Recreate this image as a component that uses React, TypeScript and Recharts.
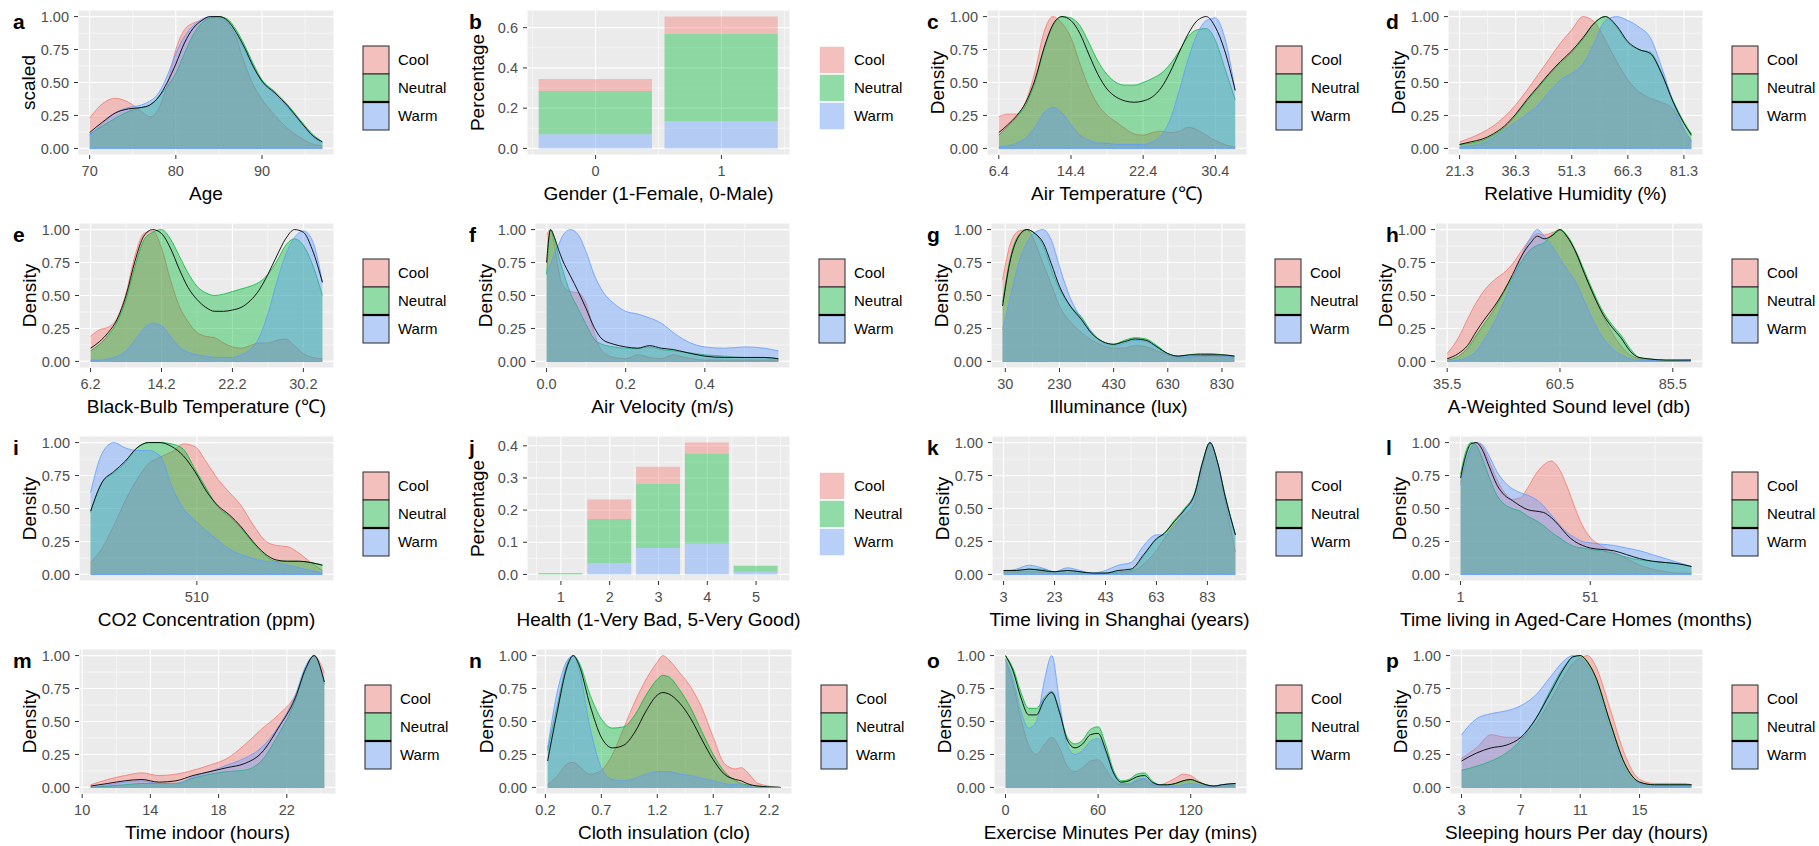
import React from "react";
import { ComposedChart, Area, Line, Bar, XAxis, YAxis, CartesianGrid } from "recharts";

const FONT = '"Liberation Sans", Arial, Helvetica, sans-serif';
const COOL = "#F8766D";
const NEUTRAL = "#00BA38";
const WARM = "#619CFF";
const CELL_W = 455;
const CELL_H = 212;
const PLOT_TOP = 10;
const PLOT_H = 145;

// ---- a: Age
const ageX = [70, 71.5, 73, 74.5, 76, 77, 78, 79, 80, 81, 82, 83, 84, 85, 86, 87, 88, 89, 90, 91.5, 93, 94.5, 96, 97];
const ageCool = [0.23, 0.34, 0.38, 0.35, 0.28, 0.24, 0.3, 0.48, 0.75, 0.9, 0.95, 0.97, 0.99, 1.0, 0.96, 0.84, 0.64, 0.48, 0.37, 0.25, 0.15, 0.08, 0.03, 0.02];
const ageNeutral = [0.11, 0.17, 0.23, 0.28, 0.31, 0.33, 0.39, 0.47, 0.57, 0.72, 0.86, 0.95, 0.99, 1.0, 0.98, 0.9, 0.78, 0.64, 0.52, 0.43, 0.33, 0.21, 0.1, 0.05];
const ageWarm = [0.1, 0.19, 0.27, 0.31, 0.33, 0.36, 0.42, 0.55, 0.72, 0.85, 0.93, 0.98, 1.0, 0.99, 0.95, 0.86, 0.74, 0.61, 0.51, 0.41, 0.31, 0.19, 0.08, 0.04];
const ageAll = [0.12, 0.2, 0.27, 0.3, 0.31, 0.33, 0.39, 0.5, 0.64, 0.8, 0.91, 0.97, 1.0, 1.0, 0.97, 0.88, 0.76, 0.62, 0.51, 0.42, 0.32, 0.2, 0.09, 0.05];

// ---- b: Gender
const genderCats = [0, 1];
const genderWarm = [0.07, 0.135];
const genderNeutral = [0.215, 0.435];
const genderCool = [0.06, 0.085];

// ---- c: Air temperature
const airX = [6.4, 7.4, 8.4, 9.4, 10.4, 11.4, 12.4, 13.4, 14.4, 15.4, 16.4, 17.4, 18.4, 19.4, 20.4, 21.4, 22.4, 23.4, 24.4, 25.4, 26.4, 27.4, 28.4, 29.4, 30.4, 31.4, 32.6];
const airCool = [0.24, 0.26, 0.26, 0.36, 0.58, 0.88, 1.0, 0.95, 0.84, 0.64, 0.46, 0.33, 0.25, 0.2, 0.15, 0.11, 0.1, 0.12, 0.13, 0.12, 0.13, 0.16, 0.14, 0.1, 0.06, 0.03, 0.01];
const airNeutral = [0.1, 0.17, 0.24, 0.33, 0.5, 0.75, 0.93, 1.0, 0.99, 0.93, 0.8, 0.66, 0.56, 0.5, 0.48, 0.48, 0.5, 0.53, 0.57, 0.64, 0.74, 0.85, 0.9, 0.91, 0.82, 0.62, 0.37];
const airWarm = [0.01, 0.02, 0.04, 0.08, 0.16, 0.27, 0.31, 0.27, 0.18, 0.1, 0.06, 0.04, 0.04, 0.03, 0.03, 0.03, 0.03, 0.05, 0.1, 0.22, 0.44, 0.68, 0.87, 0.97, 0.99, 0.85, 0.44];
const airAll = [0.12, 0.18, 0.25, 0.35, 0.52, 0.76, 0.94, 1.0, 0.97, 0.87, 0.71, 0.56, 0.45, 0.39, 0.36, 0.35, 0.36, 0.39, 0.46, 0.58, 0.73, 0.87, 0.97, 1.0, 0.92, 0.75, 0.44];

// ---- d: Relative humidity
const rhX = [21.3, 24.3, 27.3, 30.3, 33.3, 36.3, 39.3, 42.3, 45.3, 48.3, 51.3, 54.3, 57.3, 60.3, 63.3, 66.3, 69.3, 72.3, 75.3, 78.3, 81.3, 83.3];
const rhCool = [0.05, 0.08, 0.12, 0.17, 0.24, 0.33, 0.44, 0.56, 0.68, 0.8, 0.9, 1.0, 0.96, 0.82, 0.66, 0.52, 0.43, 0.38, 0.35, 0.3, 0.14, 0.06];
const rhNeutral = [0.03, 0.04, 0.06, 0.1, 0.16, 0.25, 0.36, 0.46, 0.56, 0.65, 0.73, 0.83, 0.95, 1.0, 0.92, 0.8, 0.75, 0.73, 0.58, 0.37, 0.2, 0.11];
const rhWarm = [0.01, 0.02, 0.04, 0.08, 0.14, 0.2, 0.26, 0.33, 0.43, 0.52, 0.57, 0.64, 0.8, 0.97, 1.0, 0.97, 0.92, 0.84, 0.62, 0.36, 0.15, 0.05];
const rhAll = [0.03, 0.05, 0.07, 0.11, 0.17, 0.26, 0.37, 0.47, 0.57, 0.66, 0.74, 0.84, 0.95, 1.0, 0.93, 0.81, 0.75, 0.72, 0.57, 0.36, 0.19, 0.1];

// ---- e: Black-bulb temperature
const bbX = [6.2, 7.2, 8.2, 9.2, 10.2, 11.2, 12.2, 13.2, 14.2, 15.2, 16.2, 17.2, 18.2, 19.2, 20.2, 21.2, 22.2, 23.2, 24.2, 25.2, 26.2, 27.2, 28.2, 29.2, 30.2, 31.2, 32.35];
const bbCool = [0.19, 0.24, 0.26, 0.33, 0.52, 0.8, 0.97, 0.99, 0.86, 0.62, 0.42, 0.3, 0.22, 0.19, 0.18, 0.14, 0.11, 0.1, 0.12, 0.14, 0.14, 0.16, 0.17, 0.12, 0.06, 0.03, 0.02];
const bbNeutral = [0.08, 0.13, 0.2, 0.3, 0.47, 0.72, 0.92, 0.98, 1.0, 0.93, 0.8, 0.67, 0.57, 0.52, 0.5, 0.51, 0.53, 0.55, 0.57, 0.6, 0.66, 0.76, 0.88, 0.93, 0.88, 0.74, 0.5];
const bbWarm = [0.01, 0.01, 0.02, 0.04, 0.08, 0.16, 0.25, 0.29, 0.27, 0.19, 0.11, 0.07, 0.05, 0.04, 0.03, 0.03, 0.03, 0.05, 0.09, 0.18, 0.36, 0.6, 0.81, 0.94, 0.99, 0.92, 0.6];
const bbAll = [0.1, 0.15, 0.22, 0.32, 0.5, 0.76, 0.95, 1.0, 0.97, 0.86, 0.7, 0.56, 0.47, 0.41, 0.38, 0.38, 0.39, 0.41, 0.46, 0.54, 0.66, 0.8, 0.93, 1.0, 0.98, 0.85, 0.6];

// ---- f: Air velocity
const velX = [0, 0.01, 0.02, 0.03, 0.04, 0.06, 0.08, 0.1, 0.12, 0.14, 0.17, 0.2, 0.23, 0.26, 0.29, 0.32, 0.35, 0.4, 0.45, 0.5, 0.55, 0.586];
const velCool = [0.96, 1.0, 0.88, 0.7, 0.58, 0.53, 0.52, 0.44, 0.22, 0.08, 0.03, 0.02, 0.05, 0.03, 0.02, 0.05, 0.03, 0.01, 0.01, 0.01, 0.01, 0.01];
const velNeutral = [0.66, 1.0, 0.93, 0.8, 0.7, 0.52, 0.4, 0.28, 0.17, 0.13, 0.11, 0.1, 0.1, 0.11, 0.09, 0.08, 0.07, 0.05, 0.04, 0.03, 0.03, 0.02];
const velWarm = [0.66, 0.74, 0.82, 0.88, 0.95, 1.0, 0.96, 0.83, 0.66, 0.54, 0.44, 0.38, 0.36, 0.33, 0.29, 0.22, 0.16, 0.11, 0.1, 0.11, 0.1, 0.08];
const velAll = [0.75, 1.0, 0.94, 0.85, 0.77, 0.65, 0.53, 0.4, 0.26, 0.17, 0.13, 0.11, 0.1, 0.12, 0.1, 0.09, 0.07, 0.04, 0.03, 0.03, 0.03, 0.02];

// ---- g: Illuminance
const luxX = [20, 50, 80, 110, 140, 170, 200, 230, 270, 310, 350, 390, 430, 470, 510, 550, 590, 630, 670, 710, 750, 790, 830, 876];
const luxCool = [0.62, 0.9, 0.99, 1.0, 0.9, 0.74, 0.58, 0.42, 0.3, 0.22, 0.16, 0.12, 0.1, 0.1, 0.12, 0.11, 0.08, 0.05, 0.03, 0.03, 0.04, 0.04, 0.04, 0.03];
const luxNeutral = [0.45, 0.8, 0.96, 1.0, 0.97, 0.88, 0.7, 0.55, 0.42, 0.34, 0.22, 0.15, 0.13, 0.16, 0.18, 0.17, 0.12, 0.06, 0.04, 0.05, 0.06, 0.06, 0.05, 0.04];
const luxWarm = [0.24, 0.5, 0.75, 0.9, 0.98, 1.0, 0.92, 0.72, 0.48, 0.33, 0.22, 0.14, 0.12, 0.14, 0.16, 0.15, 0.11, 0.05, 0.04, 0.04, 0.04, 0.05, 0.04, 0.04];
const luxAll = [0.42, 0.78, 0.95, 1.0, 0.97, 0.9, 0.74, 0.57, 0.42, 0.32, 0.21, 0.15, 0.13, 0.15, 0.17, 0.16, 0.11, 0.06, 0.04, 0.05, 0.05, 0.05, 0.05, 0.04];

// ---- h: Sound level
const soundX = [35.5, 38, 40, 42, 44, 46, 48, 50, 52, 54, 55.5, 57, 59, 60.5, 62, 64, 66, 68, 70, 72, 74, 76, 78, 80, 84, 89.5];
const soundCool = [0.06, 0.18, 0.32, 0.45, 0.55, 0.62, 0.67, 0.74, 0.84, 0.93, 0.97, 0.96, 0.98, 1.0, 0.95, 0.82, 0.66, 0.5, 0.35, 0.22, 0.12, 0.05, 0.02, 0.01, 0.0, 0.0];
const soundNeutral = [0.01, 0.04, 0.1, 0.2, 0.3, 0.4, 0.52, 0.64, 0.76, 0.85, 0.88, 0.9, 0.97, 1.0, 0.96, 0.84, 0.68, 0.52, 0.38, 0.28, 0.2, 0.1, 0.03, 0.02, 0.01, 0.01];
const soundWarm = [0.0, 0.01, 0.03, 0.08, 0.18, 0.3, 0.45, 0.62, 0.8, 0.94, 1.0, 0.95, 0.86, 0.78, 0.7, 0.6, 0.45, 0.3, 0.18, 0.1, 0.05, 0.02, 0.01, 0.01, 0.0, 0.01];
const soundAll = [0.02, 0.06, 0.12, 0.23, 0.33, 0.42, 0.53, 0.66, 0.8, 0.9, 0.95, 0.93, 0.96, 1.0, 0.95, 0.83, 0.66, 0.5, 0.36, 0.26, 0.18, 0.08, 0.03, 0.02, 0.01, 0.01];

// ---- i: CO2
const co2X = [400, 412, 424, 436, 448, 460, 472, 484, 496, 508, 520, 532, 544, 556, 568, 580, 592, 604, 616, 628, 640];
const co2Cool = [0.09, 0.2, 0.37, 0.56, 0.72, 0.84, 0.89, 0.93, 0.99, 0.97, 0.85, 0.72, 0.62, 0.52, 0.38, 0.26, 0.22, 0.21, 0.16, 0.09, 0.03];
const co2Neutral = [0.47, 0.7, 0.77, 0.85, 0.96, 1.0, 1.0, 0.99, 0.95, 0.8, 0.65, 0.51, 0.44, 0.35, 0.24, 0.15, 0.1, 0.1, 0.1, 0.09, 0.07];
const co2Warm = [0.62, 0.92, 1.0, 0.96, 0.94, 0.94, 0.9, 0.67, 0.5, 0.41, 0.33, 0.26, 0.19, 0.15, 0.12, 0.1, 0.09, 0.07, 0.05, 0.03, 0.01];
const co2All = [0.48, 0.7, 0.78, 0.86, 0.96, 1.0, 1.0, 0.97, 0.9, 0.78, 0.63, 0.52, 0.45, 0.36, 0.25, 0.16, 0.11, 0.1, 0.1, 0.09, 0.07];

// ---- j: Health
const healthCats = [1, 2, 3, 4, 5];
const healthWarm = [0, 0.035, 0.082, 0.095, 0.008];
const healthNeutral = [0.004, 0.137, 0.2, 0.281, 0.019];
const healthCool = [0, 0.061, 0.053, 0.034, 0];

// ---- k: Time living in Shanghai
const shX = [3, 8, 13, 18, 23, 28, 33, 38, 43, 48, 53, 58, 63, 66, 70, 74, 78, 81, 84, 87, 90, 94];
const shCool = [0.02, 0.02, 0.02, 0.02, 0.01, 0.01, 0.01, 0.0, 0.01, 0.01, 0.02, 0.08, 0.18, 0.27, 0.38, 0.45, 0.55, 0.8, 1.0, 0.85, 0.55, 0.17];
const shNeutral = [0.03, 0.03, 0.04, 0.04, 0.02, 0.03, 0.02, 0.01, 0.01, 0.02, 0.03, 0.14, 0.27, 0.31, 0.41, 0.5, 0.62, 0.85, 1.0, 0.85, 0.6, 0.3];
const shWarm = [0.02, 0.04, 0.07, 0.05, 0.02, 0.05, 0.03, 0.01, 0.03, 0.07, 0.09, 0.22, 0.3, 0.3, 0.36, 0.48, 0.6, 0.84, 1.0, 0.84, 0.58, 0.3];
const shAll = [0.03, 0.03, 0.04, 0.03, 0.02, 0.03, 0.02, 0.01, 0.01, 0.03, 0.04, 0.15, 0.27, 0.31, 0.4, 0.49, 0.61, 0.84, 1.0, 0.85, 0.59, 0.3];

// ---- l: Time living in aged-care homes
const achX = [1, 3, 5, 7, 9, 12, 15, 18, 21, 24, 27, 30, 33, 36, 39, 42, 45, 48, 51, 55, 60, 65, 70, 75, 80, 85, 90];
const achCool = [0.7, 0.85, 0.96, 1.0, 0.98, 0.86, 0.72, 0.62, 0.57, 0.58, 0.66, 0.76, 0.83, 0.86, 0.8, 0.67, 0.51, 0.37, 0.28, 0.22, 0.17, 0.12, 0.07, 0.04, 0.02, 0.01, 0.01];
const achNeutral = [0.76, 0.93, 1.0, 0.98, 0.9, 0.74, 0.6, 0.53, 0.5, 0.48, 0.44, 0.41, 0.37, 0.32, 0.28, 0.24, 0.21, 0.2, 0.19, 0.18, 0.16, 0.13, 0.11, 0.1, 0.09, 0.08, 0.06];
const achWarm = [0.68, 0.85, 0.96, 1.0, 0.99, 0.9, 0.78, 0.7, 0.65, 0.62, 0.6, 0.57, 0.52, 0.45, 0.38, 0.32, 0.28, 0.25, 0.24, 0.23, 0.22, 0.2, 0.18, 0.15, 0.12, 0.09, 0.06];
const achAll = [0.73, 0.9, 0.99, 1.0, 0.96, 0.82, 0.68, 0.6, 0.56, 0.52, 0.49, 0.48, 0.47, 0.43, 0.37, 0.3, 0.25, 0.22, 0.2, 0.19, 0.18, 0.15, 0.12, 0.1, 0.09, 0.08, 0.06];

// ---- m: Time indoor
const indoorX = [10.5, 11.5, 12.5, 13.5, 14.5, 15.5, 16.5, 17.5, 18.5, 19.5, 20.5, 21.5, 22.5, 23.1, 23.6, 24.2];
const indoorCool = [0.02, 0.06, 0.09, 0.11, 0.09, 0.1, 0.13, 0.17, 0.22, 0.32, 0.44, 0.55, 0.7, 0.88, 1.0, 0.87];
const indoorNeutral = [0.0, 0.01, 0.02, 0.03, 0.03, 0.03, 0.07, 0.1, 0.12, 0.13, 0.2, 0.4, 0.66, 0.9, 1.0, 0.78];
const indoorWarm = [0.0, 0.02, 0.04, 0.05, 0.03, 0.03, 0.08, 0.12, 0.17, 0.22, 0.3, 0.46, 0.7, 0.92, 1.0, 0.8];
const indoorAll = [0.01, 0.03, 0.05, 0.06, 0.04, 0.05, 0.09, 0.12, 0.15, 0.18, 0.26, 0.45, 0.68, 0.9, 1.0, 0.8];

// ---- n: Cloth insulation
const cloX = [0.22, 0.3, 0.4, 0.45, 0.5, 0.6, 0.7, 0.8, 0.9, 1.0, 1.1, 1.2, 1.25, 1.3, 1.4, 1.5, 1.6, 1.7, 1.8, 1.9, 1.95, 2.0, 2.1, 2.3];
const cloCool = [0.02, 0.08, 0.18, 0.19, 0.16, 0.1, 0.13, 0.25, 0.45, 0.65, 0.82, 0.95, 1.0, 0.97, 0.87, 0.76, 0.6, 0.38, 0.18, 0.14, 0.15, 0.12, 0.03, 0.0];
const cloNeutral = [0.28, 0.6, 0.95, 1.0, 0.95, 0.7, 0.52, 0.45, 0.46, 0.55, 0.7, 0.82, 0.85, 0.84, 0.74, 0.6, 0.42, 0.25, 0.12, 0.05, 0.03, 0.02, 0.01, 0.0];
const cloWarm = [0.3, 0.7, 0.97, 1.0, 0.9, 0.45, 0.15, 0.06, 0.05, 0.07, 0.1, 0.12, 0.12, 0.12, 0.1, 0.09, 0.07, 0.05, 0.03, 0.02, 0.02, 0.01, 0.0, 0.0];
const cloAll = [0.2, 0.55, 0.93, 1.0, 0.93, 0.62, 0.38, 0.3, 0.32, 0.42, 0.58, 0.7, 0.72, 0.71, 0.64, 0.52, 0.36, 0.21, 0.1, 0.06, 0.05, 0.03, 0.01, 0.0];

// ---- o: Exercise minutes
const exX = [0, 5, 10, 15, 20, 25, 30, 35, 40, 45, 50, 55, 60, 65, 70, 75, 80, 85, 90, 95, 100, 105, 110, 115, 120, 125, 130, 135, 140, 149];
const exCool = [0.97, 0.78, 0.52, 0.32, 0.25, 0.32, 0.38, 0.3, 0.16, 0.12, 0.15, 0.2, 0.21, 0.14, 0.05, 0.02, 0.02, 0.05, 0.06, 0.02, 0.02, 0.04, 0.07, 0.1, 0.09, 0.05, 0.02, 0.01, 0.01, 0.02];
const exNeutral = [1.0, 0.9, 0.72, 0.6, 0.6, 0.68, 0.73, 0.58, 0.38, 0.33, 0.36, 0.44, 0.46, 0.32, 0.13, 0.05, 0.06, 0.1, 0.11, 0.05, 0.02, 0.02, 0.03, 0.05, 0.06, 0.04, 0.02, 0.01, 0.02, 0.03];
const exWarm = [0.97, 0.82, 0.58, 0.45, 0.5, 0.8, 1.0, 0.65, 0.32, 0.25, 0.28, 0.35, 0.37, 0.26, 0.1, 0.03, 0.03, 0.06, 0.07, 0.03, 0.02, 0.01, 0.01, 0.02, 0.03, 0.02, 0.01, 0.01, 0.02, 0.03];
const exAll = [1.0, 0.88, 0.68, 0.55, 0.55, 0.66, 0.72, 0.57, 0.36, 0.3, 0.33, 0.4, 0.41, 0.28, 0.11, 0.04, 0.05, 0.08, 0.09, 0.04, 0.02, 0.02, 0.03, 0.05, 0.06, 0.04, 0.02, 0.01, 0.02, 0.03];

// ---- p: Sleeping hours
const sleepX = [3, 4, 5, 6, 7, 8, 9, 10, 10.5, 11, 11.5, 12, 13, 14, 15, 16, 17, 18, 18.5];
const sleepCool = [0.22, 0.3, 0.4, 0.38, 0.38, 0.48, 0.66, 0.86, 0.94, 0.98, 1.0, 0.93, 0.6, 0.25, 0.06, 0.03, 0.03, 0.03, 0.02];
const sleepNeutral = [0.13, 0.16, 0.2, 0.26, 0.36, 0.52, 0.74, 0.93, 0.99, 1.0, 0.95, 0.84, 0.5, 0.18, 0.04, 0.02, 0.02, 0.02, 0.02];
const sleepWarm = [0.4, 0.52, 0.56, 0.58, 0.62, 0.7, 0.84, 0.97, 1.0, 0.98, 0.92, 0.8, 0.45, 0.14, 0.03, 0.01, 0.01, 0.01, 0.01];
const sleepAll = [0.2, 0.26, 0.3, 0.32, 0.38, 0.52, 0.72, 0.92, 0.99, 1.0, 0.95, 0.85, 0.5, 0.18, 0.04, 0.02, 0.02, 0.02, 0.02];

const densityTicks = [0, 0.25, 0.5, 0.75, 1];
const densityLabels = ["0.00", "0.25", "0.50", "0.75", "1.00"];

type Panel = {
  kind: "density" | "bar";
  letter: string;
  xTitle: string;
  yTitle: string;
  x: number[];
  cool: number[];
  neutral: number[];
  warm: number[];
  all?: number[];
  xTicks: number[];
  xLabels: string[];
  yTicks: number[];
  yLabels: string[];
};

const dens = (letter: string, xTitle: string, x: number[], cool: number[], neutral: number[], warm: number[], all: number[], xTicks: number[], xLabels: string[], yTitle = "Density"): Panel => ({
  kind: "density", letter, xTitle, yTitle, x, cool, neutral, warm, all, xTicks, xLabels, yTicks: densityTicks, yLabels: densityLabels,
});

const panels: Panel[] = [
  dens("a", "Age", ageX, ageCool, ageNeutral, ageWarm, ageAll, [70, 80, 90], ["70", "80", "90"], "scaled"),
  { kind: "bar", letter: "b", xTitle: "Gender (1-Female, 0-Male)", yTitle: "Percentage", x: genderCats, cool: genderCool, neutral: genderNeutral, warm: genderWarm, xTicks: [0, 1], xLabels: ["0", "1"], yTicks: [0, 0.2, 0.4, 0.6], yLabels: ["0.0", "0.2", "0.4", "0.6"] },
  dens("c", "Air Temperature (\u2103)", airX, airCool, airNeutral, airWarm, airAll, [6.4, 14.4, 22.4, 30.4], ["6.4", "14.4", "22.4", "30.4"]),
  dens("d", "Relative Humidity (%)", rhX, rhCool, rhNeutral, rhWarm, rhAll, [21.3, 36.3, 51.3, 66.3, 81.3], ["21.3", "36.3", "51.3", "66.3", "81.3"]),
  dens("e", "Black-Bulb Temperature (\u2103)", bbX, bbCool, bbNeutral, bbWarm, bbAll, [6.2, 14.2, 22.2, 30.2], ["6.2", "14.2", "22.2", "30.2"]),
  dens("f", "Air Velocity (m/s)", velX, velCool, velNeutral, velWarm, velAll, [0, 0.2, 0.4], ["0.0", "0.2", "0.4"]),
  dens("g", "Illuminance (lux)", luxX, luxCool, luxNeutral, luxWarm, luxAll, [30, 230, 430, 630, 830], ["30", "230", "430", "630", "830"]),
  dens("h", "A-Weighted Sound level (db)", soundX, soundCool, soundNeutral, soundWarm, soundAll, [35.5, 60.5, 85.5], ["35.5", "60.5", "85.5"]),
  dens("i", "CO2 Concentration (ppm)", co2X, co2Cool, co2Neutral, co2Warm, co2All, [510], ["510"]),
  { kind: "bar", letter: "j", xTitle: "Health (1-Very Bad, 5-Very Good)", yTitle: "Percentage", x: healthCats, cool: healthCool, neutral: healthNeutral, warm: healthWarm, xTicks: [1, 2, 3, 4, 5], xLabels: ["1", "2", "3", "4", "5"], yTicks: [0, 0.1, 0.2, 0.3, 0.4], yLabels: ["0.0", "0.1", "0.2", "0.3", "0.4"] },
  dens("k", "Time living in Shanghai (years)", shX, shCool, shNeutral, shWarm, shAll, [3, 23, 43, 63, 83], ["3", "23", "43", "63", "83"]),
  dens("l", "Time living in Aged-Care Homes (months)", achX, achCool, achNeutral, achWarm, achAll, [1, 51], ["1", "51"]),
  dens("m", "Time indoor (hours)", indoorX, indoorCool, indoorNeutral, indoorWarm, indoorAll, [10, 14, 18, 22], ["10", "14", "18", "22"]),
  dens("n", "Cloth insulation (clo)", cloX, cloCool, cloNeutral, cloWarm, cloAll, [0.2, 0.7, 1.2, 1.7, 2.2], ["0.2", "0.7", "1.2", "1.7", "2.2"]),
  dens("o", "Exercise Minutes Per day (mins)", exX, exCool, exNeutral, exWarm, exAll, [0, 60, 120], ["0", "60", "120"]),
  dens("p", "Sleeping hours Per day (hours)", sleepX, sleepCool, sleepNeutral, sleepWarm, sleepAll, [3, 7, 11, 15], ["3", "7", "11", "15"]),
];

// plot left / right edges inside each 455px cell
const plotLeft = [78, 72, 77, 84, 79, 80, 81, 71, 79, 72, 82, 85, 79, 81, 84, 86];
const plotRight = [334, 335, 337, 339, 334, 335, 336, 339, 334, 335, 337, 339, 336, 337, 337, 339];
const letterX = [13, 14, 17, 22];

function minorBreaks(ticks: number[], lo: number, hi: number) {
  if (ticks.length < 2) return [];
  const step = ticks[1] - ticks[0];
  const out: number[] = [];
  for (let v = ticks[0] - step / 2; v <= hi + 1e-9; v += step) {
    if (v >= lo - 1e-9) out.push(+v.toFixed(6));
  }
  return out;
}

function fmt(ticks: number[], labels: string[]) {
  return (v: number) => {
    const i = ticks.findIndex((t) => Math.abs(t - v) < 1e-9);
    return i >= 0 ? labels[i] : "";
  };
}

const zero = () => 0;

function Cell({ p, idx }: { p: Panel; idx: number }) {
  const col = idx % 4;
  const row = Math.floor(idx / 4);
  const pl = plotLeft[idx];
  const pr = plotRight[idx];
  const density = p.kind === "density";

  const rows = p.x.map((x, i) => ({
    x,
    cool: p.cool[i],
    neutral: p.neutral[i],
    warm: p.warm[i],
    all: p.all ? p.all[i] : undefined,
  }));

  let xDomain: [number, number];
  let yDomain: [number, number];
  if (density) {
    const lo = Math.min(...p.x);
    const hi = Math.max(...p.x);
    const pad = (hi - lo) * 0.05;
    xDomain = [lo - pad, hi + pad];
    yDomain = [-0.05, 1.05];
  } else {
    const lo = Math.min(...p.x) - 0.45;
    const hi = Math.max(...p.x) + 0.45;
    const pad = (hi - lo) * 0.05;
    xDomain = [lo - pad, hi + pad];
    const top = Math.max(...p.x.map((_, i) => p.cool[i] + p.neutral[i] + p.warm[i]));
    yDomain = [-0.05 * top, top * 1.05];
  }
  const minorX = minorBreaks(p.xTicks, xDomain[0], xDomain[1]);
  const minorY = minorBreaks(p.yTicks, yDomain[0], yDomain[1]);
  const barSize = density ? 0 : (0.9 * (pr - pl)) / (xDomain[1] - xDomain[0]);

  const keyX = pr + 29;
  const keyY = PLOT_TOP + 36;
  const keys: [string, string][] = [["Cool", COOL], ["Neutral", NEUTRAL], ["Warm", WARM]];

  return (
    <div style={{ position: "absolute", left: Math.round(col * 454.75), top: row * 213, width: CELL_W, height: CELL_H }}>
      <ComposedChart
        width={CELL_W}
        height={CELL_H}
        data={rows}
        margin={{ top: PLOT_TOP, right: CELL_W - pr, left: 0, bottom: 0 }}
        style={{ fontFamily: FONT }}
      >
        <CartesianGrid fill="#EBEBEB" stroke="#FFFFFF" strokeWidth={1.1} />
        <CartesianGrid fill="none" stroke="#FFFFFF" strokeWidth={0.55} verticalValues={minorX} horizontalValues={minorY} />
        <XAxis
          type="number"
          dataKey="x"
          domain={xDomain}
          ticks={p.xTicks}
          interval={0}
          allowDataOverflow
          tickFormatter={fmt(p.xTicks, p.xLabels)}
          axisLine={false}
          stroke="#333333"
          tickSize={4}
          tickMargin={7}
          tick={{ fill: "#4D4D4D", fontSize: 14.5, fontFamily: FONT }}
          height={CELL_H - PLOT_TOP - PLOT_H}
        />
        <YAxis
          type="number"
          domain={yDomain}
          ticks={p.yTicks}
          interval={0}
          allowDataOverflow
          tickFormatter={fmt(p.yTicks, p.yLabels)}
          axisLine={false}
          stroke="#333333"
          tickSize={4}
          tickMargin={5}
          tick={{ fill: "#4D4D4D", fontSize: 14.5, fontFamily: FONT }}
          width={pl}
        />
        {density && (
          <Area type="monotone" dataKey="cool" stroke={COOL} strokeWidth={0.8} fill={COOL} fillOpacity={0.4} baseValue={0} dot={false} activeDot={false} isAnimationActive={false} />
        )}
        {density && (
          <Area type="monotone" dataKey="neutral" stroke={NEUTRAL} strokeWidth={0.8} fill={NEUTRAL} fillOpacity={0.4} baseValue={0} dot={false} activeDot={false} isAnimationActive={false} />
        )}
        {density && (
          <Line type="monotone" dataKey="all" stroke="#000000" strokeWidth={0.9} dot={false} activeDot={false} isAnimationActive={false} />
        )}
        {density && (
          <Area type="monotone" dataKey="warm" stroke={WARM} strokeWidth={0.8} fill={WARM} fillOpacity={0.4} baseValue={0} dot={false} activeDot={false} isAnimationActive={false} />
        )}
        {density && (
          <Line type="linear" dataKey={zero} stroke={WARM} strokeWidth={0.9} dot={false} activeDot={false} isAnimationActive={false} />
        )}
        {!density && <Bar dataKey="warm" stackId="s" fill={WARM} fillOpacity={0.4} barSize={barSize} isAnimationActive={false} />}
        {!density && <Bar dataKey="neutral" stackId="s" fill={NEUTRAL} fillOpacity={0.4} barSize={barSize} isAnimationActive={false} />}
        {!density && <Bar dataKey="cool" stackId="s" fill={COOL} fillOpacity={0.4} barSize={barSize} isAnimationActive={false} />}
      </ComposedChart>
      <svg width={CELL_W} height={CELL_H} style={{ position: "absolute", left: 0, top: 0, pointerEvents: "none" }} fontFamily={FONT}>
        <text x={letterX[col]} y={PLOT_TOP + 19} fontSize={21} fontWeight="bold" fill="#000">
          {p.letter}
        </text>
        <text x={(pl + pr) / 2} y={PLOT_TOP + PLOT_H + 45} textAnchor="middle" fontSize={19} fill="#000">
          {p.xTitle}
        </text>
        <text transform={`translate(${pl - 50},${PLOT_TOP + PLOT_H / 2}) rotate(-90)`} textAnchor="middle" dy="0.35em" fontSize={19} fill="#000">
          {p.yTitle}
        </text>
        {keys.map(([name, color], i) => (
          <g key={name}>
            <rect x={keyX} y={keyY + i * 28} width={26} height={28} fill="#F2F2F2" />
            <rect
              x={keyX}
              y={keyY + i * 28}
              width={26}
              height={28}
              fill={color}
              fillOpacity={0.4}
              stroke={density ? "#262626" : "#FFFFFF"}
              strokeWidth={density ? 1 : 1.5}
            />
            <text x={keyX + 35} y={keyY + i * 28 + 14} dy="0.35em" fontSize={15} fill="#000">
              {name}
            </text>
          </g>
        ))}
        {density && <line x1={keyX} x2={keyX + 26} y1={keyY + 56} y2={keyY + 56} stroke="#000" strokeWidth={2.2} />}
      </svg>
    </div>
  );
}

export default function App() {
  return (
    <div style={{ position: "absolute", left: 0, top: 0, width: 1819, height: 846, background: "#FFFFFF", overflow: "hidden", fontFamily: FONT }}>
      {panels.map((p, i) => (
        <Cell key={p.letter} p={p} idx={i} />
      ))}
    </div>
  );
}
